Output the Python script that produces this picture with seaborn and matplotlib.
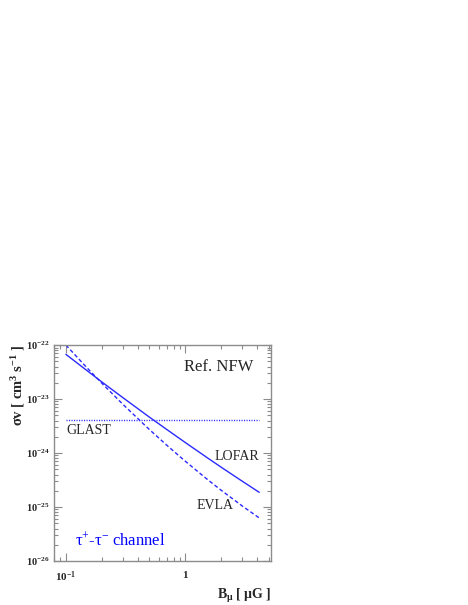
import numpy as np
import pandas as pd
import matplotlib
matplotlib.use("Agg")
import matplotlib.pyplot as plt
import matplotlib.ticker as mticker
import seaborn as sns

# values (log-log plot)
b_field = [0.1, 0.15, 0.2, 0.3, 0.5, 0.7, 1.0, 1.5, 2.0, 3.0, 4.15]
sv_lofar = [6.73e-23, 3.37e-23, 2.07e-23, 1.06e-23, 4.62e-24, 2.72e-24,
            1.56e-24, 8.38e-25, 5.43e-25, 2.99e-25, 1.87e-25]
sv_evla = [1.0e-22, 3.80e-23, 1.96e-23, 7.98e-24, 2.72e-24, 1.39e-24,
           7.02e-25, 3.35e-25, 2.03e-25, 1.04e-25, 6.27e-26]
b_glast = [0.1, 4.15]
sv_glast = [4.05e-24, 4.05e-24]

yticks = [1e-26, 1e-25, 1e-24, 1e-23, 1e-22]
ytick_labels = [r"$\mathbf{10^{-26}}$", r"$\mathbf{10^{-25}}$", r"$\mathbf{10^{-24}}$",
                r"$\mathbf{10^{-23}}$", r"$\mathbf{10^{-22}}$"]
xticks = [0.1, 1]
xtick_labels = [r"$\mathbf{10^{-1}}$", r"$\mathbf{1}$"]

sns.set_style("ticks")
plt.rcParams["font.family"] = ["Liberation Serif", "DejaVu Serif"]
plt.rcParams["mathtext.fontset"] = "custom"
plt.rcParams["mathtext.rm"] = "Liberation Serif"
plt.rcParams["mathtext.it"] = "Liberation Serif:italic"
plt.rcParams["mathtext.bf"] = "Liberation Serif:bold"

df_lofar = pd.DataFrame({"B": b_field, "sv": sv_lofar})
df_evla = pd.DataFrame({"B": b_field, "sv": sv_evla})
df_glast = pd.DataFrame({"B": b_glast, "sv": sv_glast})

fig = plt.figure(figsize=(4.68, 6.05), dpi=100)
ax = fig.add_axes([0.116, 0.0727, 0.463, 0.357])

blue = "#2a2aff"
sns.lineplot(data=df_lofar, x="B", y="sv", ax=ax, color=blue, lw=1.0)
sns.lineplot(data=df_evla, x="B", y="sv", ax=ax, color=blue, lw=1.0,
             linestyle=(0, (2.8, 1.8)))
sns.lineplot(data=df_glast, x="B", y="sv", ax=ax, color=blue, lw=1.0,
             linestyle=(0, (0.8, 1.0)))

ax.set_xscale("log")
ax.set_yscale("log")
ax.set_xlim(0.08, 5.2)
ax.set_ylim(1e-26, 1e-22)

ax.set_yticks(yticks)
ax.set_yticklabels(ytick_labels, fontsize=7.5)
ax.set_xticks(xticks)
ax.set_xticklabels(xtick_labels, fontsize=8)
ax.xaxis.set_minor_locator(mticker.LogLocator(base=10, subs=np.arange(2, 10)))
ax.yaxis.set_minor_locator(mticker.LogLocator(base=10, subs=np.arange(2, 10)))
ax.xaxis.set_minor_formatter(mticker.NullFormatter())
ax.yaxis.set_minor_formatter(mticker.NullFormatter())

grey = "#8c8c8c"
for sp in ax.spines.values():
    sp.set_color(grey)
    sp.set_linewidth(1.0)
    sp.set_visible(True)
ax.tick_params(which="both", direction="in", top=True, right=True, color=grey, width=0.8)
ax.tick_params(which="major", length=6)
ax.tick_params(which="minor", length=3)
ax.tick_params(axis="x", which="major", pad=6)
ax.tick_params(axis="y", which="major", pad=3.5)

ax.set_ylabel(r"$\mathbf{\sigma v\ [\ cm^{3}\ s^{-1}\ ]}$", fontsize=10.5, loc="top", labelpad=-1)
ax.set_xlabel(r"$\mathbf{B_{\mu}\ [\ \mu G\ ]}$", fontsize=10, loc="right", labelpad=2)

ax.text(0.917, 0.898, "Ref. NFW", transform=ax.transAxes, ha="right", va="center", fontsize=12)
ax.text(0.054, 0.602, "GLAST", transform=ax.transAxes, ha="left", va="center", fontsize=10)
ax.text(0.945, 0.486, "LOFAR", transform=ax.transAxes, ha="right", va="center", fontsize=10)
ax.text(0.658, 0.255, "EVLA", transform=ax.transAxes, ha="left", va="center", fontsize=10)
ax.text(0.096, 0.094, r"τ$^{+}$-τ$^{-}$ channel", transform=ax.transAxes, ha="left",
        va="center", fontsize=12, color="#0000ff")

fig.savefig("out.png", dpi=100)
